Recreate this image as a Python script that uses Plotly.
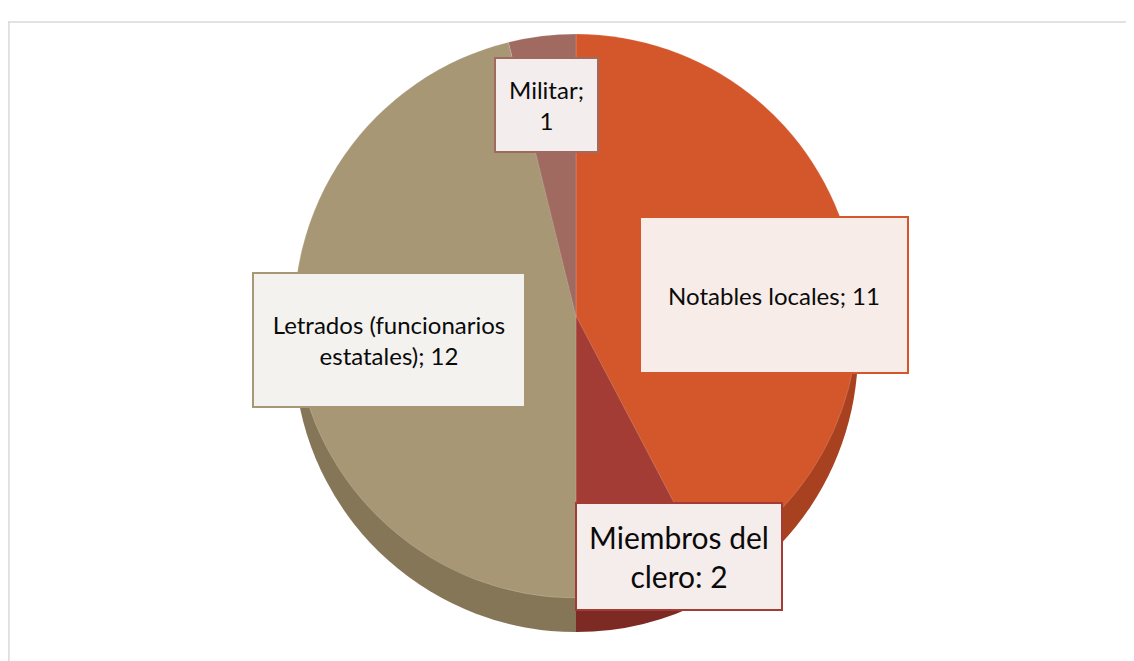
import plotly.graph_objects as go

categories = ["Notables locales", "Miembros del clero", "Letrados (funcionarios estatales)", "Militar"]
values = [11, 2, 12, 1]
label_texts = ["Notables locales; 11", "Miembros del<br>clero: 2", "Letrados (funcionarios<br>estatales); 12", "Militar;<br>1"]
top_colors = ["#D4562B", "#A33C34", "#A79775", "#A06A60"]
side_colors = ["#A8411F", "#7E2A24", "#857658", "#7E5048"]

W, H = 1134, 661
OFF = 8  # page body margin
cx, cy, r, depth = 576 - OFF, 316 - OFF, 282, 34


def dom(cyy):
    return dict(x=[(cx - r) / W, (cx + r) / W],
                y=[(H - cyy - r) / H, (H - cyy + r) / H])


fig = go.Figure()
# side (thickness) layer
fig.add_trace(go.Pie(labels=categories, values=values, sort=False, direction="clockwise",
                     rotation=0, textinfo="none", hoverinfo="skip", showlegend=False,
                     marker=dict(colors=side_colors, line=dict(color="rgba(0,0,0,0)", width=0)),
                     domain=dom(cy + depth)))
# top face
fig.add_trace(go.Pie(labels=categories, values=values, sort=False, direction="clockwise",
                     rotation=0, textinfo="none", showlegend=False,
                     marker=dict(colors=top_colors, line=dict(color="rgba(255,255,255,0.15)", width=1)),
                     domain=dom(cy)))

# label boxes (positions / sizes in pixels of the window)
boxes = [
    dict(cx=774, cy=295, w=266, h=154, size=24),
    dict(cx=679, cy=556, w=204, h=105, size=30),
    dict(cx=389, cy=340, w=270, h=132, size=24),
    dict(cx=546, cy=105, w=101, h=92, size=24),
]
border_cols = ["#D4562B", "#A33C34", "#A79775", "#A06A60"]
bg_cols = ["#F7ECE8", "#F5ECEC", "#F3F2EF", "#F3EEED"]
for txt, b, bc, bg in zip(label_texts, boxes, border_cols, bg_cols):
    fig.add_annotation(x=(b["cx"] - OFF) / W, y=1 - (b["cy"] - OFF) / H, xref="paper", yref="paper",
                       text=txt, showarrow=False, xanchor="center", yanchor="middle",
                       width=b["w"], height=b["h"], align="center", valign="middle",
                       bgcolor=bg, bordercolor=bc, borderwidth=2, borderpad=0,
                       font=dict(family="Lato", size=b["size"], color="#0A0A0A"))

# chart frame
fy = 1 - (22 - OFF) / H
fig.add_shape(type="line", xref="paper", yref="paper", x0=0, x1=1.0, y0=fy, y1=fy,
              line=dict(color="#D9D9D9", width=1.5))
fig.add_shape(type="line", xref="paper", yref="paper", x0=0.0008, x1=0.0008, y0=0, y1=fy,
              line=dict(color="#D9D9D9", width=1.5))

fig.update_layout(width=W, height=H, margin=dict(l=0, r=0, t=0, b=0),
                  paper_bgcolor="white", plot_bgcolor="white", showlegend=False)

fig.write_html("out.html")
